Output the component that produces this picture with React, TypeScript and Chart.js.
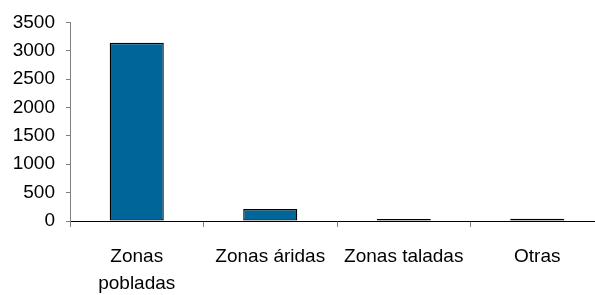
import React, { useEffect, useRef } from "react";
import { Chart, registerables } from "chart.js";

Chart.register(...registerables);

const categories: (string | string[])[] = [["Zonas", "pobladas"], "Zonas áridas", "Zonas taladas", "Otras"];
const values: number[] = [3140, 210, 35, 38];
const yTicks: number[] = [0, 500, 1000, 1500, 2000, 2500, 3000, 3500];

const FONT = "'Liberation Sans', Arial, sans-serif";

export default function App() {
  const ref = useRef<HTMLCanvasElement | null>(null);
  useEffect(() => {
    if (!ref.current) return;
    const chart = new Chart(ref.current, {
      type: "bar",
      data: {
        labels: categories,
        datasets: [
          {
            data: values,
            backgroundColor: "#006699",
            borderColor: "#000000",
            borderWidth: 1.3,
            borderSkipped: false,
            categoryPercentage: 1,
            barPercentage: 0.405,
          },
        ],
      },
      options: {
        responsive: false,
        animation: false,
        devicePixelRatio: 1,
        layout: { padding: { top: 21, left: 0, right: 0, bottom: 0 } },
        plugins: { legend: { display: false }, tooltip: { enabled: false } },
        scales: {
          x: {
            offset: true,
            grid: {
              display: true,
              drawOnChartArea: false,
              drawTicks: true,
              tickLength: 6,
              offset: true,
              color: "#808080",
            },
            border: { display: true, color: "#000000", width: 1 },
            ticks: {
              color: "#000000",
              font: { family: FONT, size: 19, lineHeight: 1.42 },
              padding: 16,
              maxRotation: 0,
              autoSkip: false,
            },
            afterFit: (s: any) => {
              s.height = 74;
            },
          },
          y: {
            min: 0,
            max: 3500,
            afterBuildTicks: (s: any) => {
              s.ticks = yTicks.map((v) => ({ value: v }));
            },
            grid: {
              display: true,
              drawOnChartArea: false,
              drawTicks: true,
              tickLength: 4,
              color: "#808080",
            },
            border: { display: true, color: "#808080", width: 1 },
            ticks: {
              color: "#000000",
              font: { family: FONT, size: 19 },
              padding: 11,
              callback: (v: any) => String(v),
            },
            afterFit: (s: any) => {
              s.width = 70;
            },
          },
        },
      },
    });
    return () => chart.destroy();
  }, []);
  return (
    <div
      style={{
        position: "fixed",
        left: 0,
        top: 0,
        width: 595,
        height: 295,
        overflow: "hidden",
        background: "#ffffff",
      }}
    >
      <canvas ref={ref} width={604} height={295} style={{ display: "block" }} />
    </div>
  );
}
